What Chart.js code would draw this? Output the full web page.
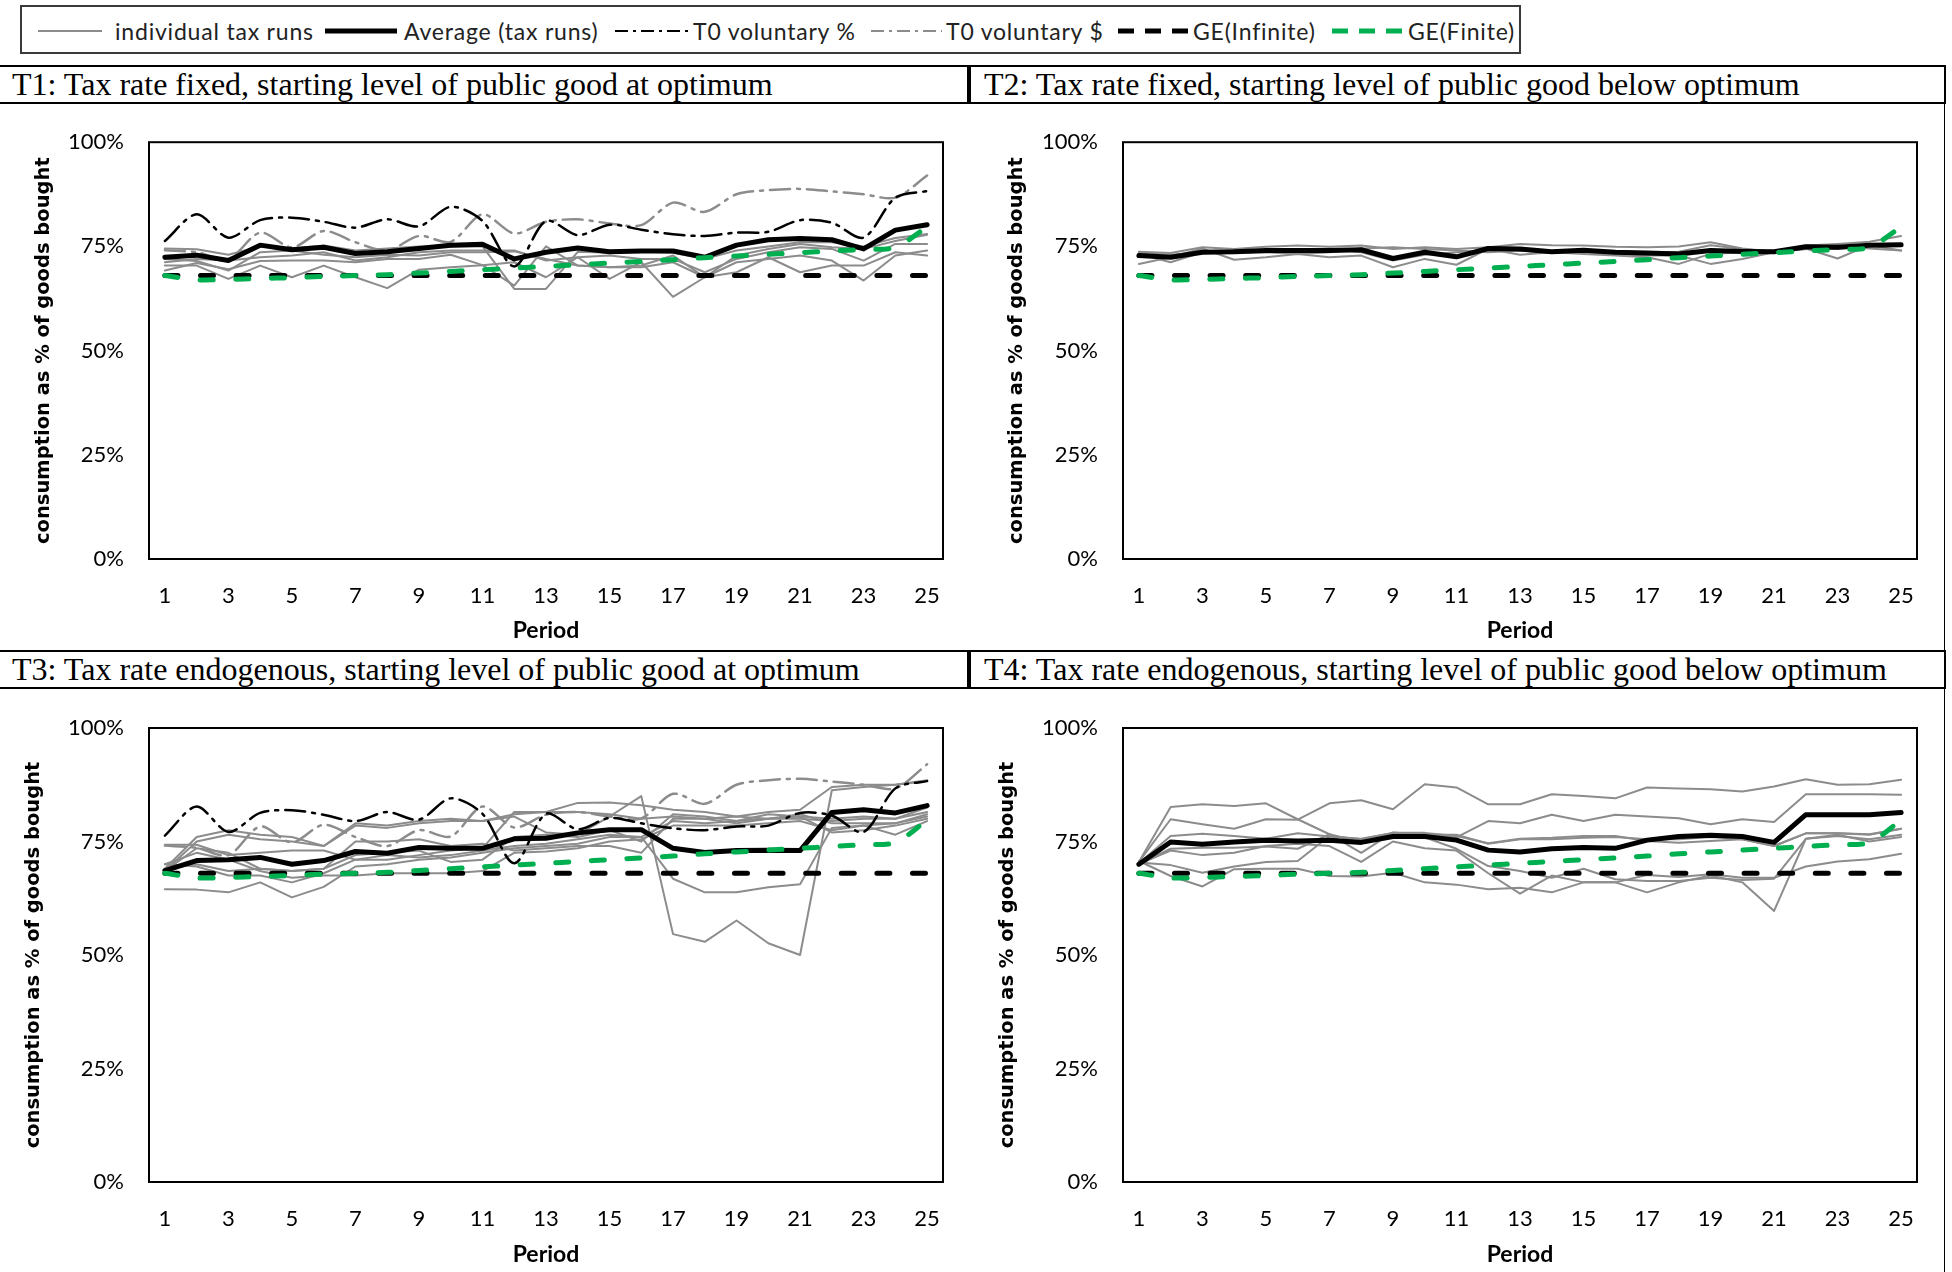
<!DOCTYPE html>
<html>
<head>
<meta charset="utf-8">
<script src="https://cdn.jsdelivr.net/npm/chart.js@4.4.1/dist/chart.umd.min.js"></script>
<style>
  html, body { margin: 0; padding: 0; background: #fff; }
  body { position: relative; width: 1952px; height: 1272px; overflow: hidden; }
  #legend { position: absolute; left: 20px; top: 5px; width: 1501px; height: 49px; box-sizing: border-box; border: 2px solid #3a3a3a; }
  .lg-text { position: absolute; top: 1px; font: 23px Lato, sans-serif; line-height: 46px; letter-spacing: 0.8px; color: #222; white-space: nowrap; }
  .lg-line { position: absolute; top: 14px; height: 20px; }
  .hdr { position: absolute; height: 39px; box-sizing: border-box; border: 2px solid #000; font: 32px "Liberation Serif", "Times New Roman", serif; line-height: 35px; white-space: nowrap; color: #000; }
  .rule { position: absolute; background: #000; }
  canvas { position: absolute; }
</style>
</head>
<body>
<div id="legend"></div>
<div class="rule" style="left:1944px;top:104px;width:1px;height:1168px"></div>

<script>
// periods 1..25
const periods = ['1','2','3','4','5','6','7','8','9','10','11','12','13','14','15','16','17','18','19','20','21','22','23','24','25'];

const panelTitles = [
  'T1: Tax rate fixed, starting level of public good at optimum',
  'T2: Tax rate fixed, starting level of public good below optimum',
  'T3: Tax rate endogenous, starting level of public good at optimum',
  'T4: Tax rate endogenous, starting level of public good below optimum'
];

const legendLabels = ['individual tax runs', 'Average (tax runs)', 'T0 voluntary %', 'T0 voluntary $', 'GE(Infinite)', 'GE(Finite)'];

// theory / baseline series, same in every panel that shows them
const geInfinite = [68, 68, 68, 68, 68, 68, 68, 68, 68, 68, 68, 68, 68, 68, 68, 68, 68, 68, 68, 68, 68, 68, 68, 68, 68];
const geFinite = [68.0, 67.0, 67.1, 67.3, 67.5, 67.8, 68.0, 68.2, 68.6, 69.0, 69.4, 69.8, 70.2, 70.6, 71.0, 71.4, 71.8, 72.3, 72.7, 73.1, 73.5, 73.9, 74.3, 74.8, 79.7];
const t0VoluntaryPct = [76.3, 82.7, 77.1, 81.3, 81.9, 80.9, 79.5, 81.5, 79.8, 84.5, 81.1, 70.2, 81.1, 77.7, 80.2, 79.0, 77.9, 77.5, 78.3, 78.5, 81.3, 80.7, 77.1, 86.7, 88.3];
const t0VoluntaryDollar = [74.1, 73.6, 72.0, 78.3, 74.8, 78.7, 76.0, 74.0, 77.5, 76.1, 82.7, 78.1, 80.9, 81.5, 80.5, 80.1, 85.5, 83.3, 87.5, 88.5, 88.8, 88.2, 87.5, 86.7, 92.0];

// T1
const t1Average = [72.4, 72.9, 71.6, 75.3, 74.2, 74.8, 73.3, 73.7, 74.5, 75.3, 75.5, 72.0, 73.6, 74.6, 73.7, 73.9, 73.9, 72.4, 75.3, 76.6, 76.9, 76.6, 74.4, 78.9, 80.2];
const t1Runs = [
  [72.0, 71.5, 69.2, 73.6, 74.0, 73.0, 72.4, 73.0, 72.8, 73.6, 73.6, 73.8, 72.0, 70.4, 70.0, 70.4, 72.8, 67.6, 72.8, 74.4, 75.6, 74.8, 74.4, 76.3, 77.8],
  [71.2, 72.0, 71.6, 72.4, 72.8, 73.6, 71.6, 72.4, 73.6, 74.0, 74.0, 74.0, 71.6, 72.4, 72.8, 72.0, 72.0, 68.8, 72.0, 73.6, 74.8, 74.4, 71.6, 75.6, 75.6],
  [70.4, 70.4, 67.2, 70.4, 67.6, 70.4, 67.6, 65.0, 69.4, 70.0, 70.5, 71.2, 67.6, 72.4, 67.2, 71.2, 62.9, 67.6, 71.2, 72.0, 72.8, 71.6, 66.8, 72.8, 74.0],
  [69.2, 71.0, 69.5, 71.5, 71.6, 71.6, 71.2, 72.0, 72.0, 73.0, 70.5, 65.6, 75.0, 70.4, 70.0, 70.0, 71.2, 67.6, 68.8, 72.4, 68.8, 70.4, 70.4, 73.6, 72.8],
  [74.5, 74.3, 73.0, 75.0, 74.5, 75.2, 74.0, 74.5, 75.0, 75.0, 75.0, 64.8, 64.8, 73.7, 73.5, 73.8, 73.5, 72.0, 74.0, 75.0, 76.0, 76.0, 75.0, 77.0, 78.0]
];

// T2
const t2Average = [72.8, 72.4, 73.6, 73.7, 74.0, 74.0, 74.0, 74.2, 72.1, 73.6, 72.5, 74.5, 74.4, 73.7, 74.1, 73.6, 73.4, 73.2, 74.0, 73.8, 73.7, 74.9, 74.8, 75.3, 75.4];
const t2Runs = [
  [73.7, 73.4, 74.8, 74.4, 74.9, 75.2, 74.9, 75.2, 74.4, 74.8, 74.4, 74.8, 75.6, 75.3, 75.2, 74.9, 74.8, 75.0, 76.0, 74.5, 73.7, 75.2, 75.6, 76.1, 77.5],
  [70.8, 72.4, 74.5, 71.8, 72.4, 73.2, 72.4, 72.8, 70.0, 72.0, 70.6, 74.4, 73.0, 73.6, 73.2, 72.8, 72.4, 70.8, 73.2, 73.6, 73.6, 74.5, 72.1, 75.3, 74.0],
  [73.4, 73.0, 73.6, 74.0, 74.2, 73.6, 74.5, 73.6, 71.6, 73.0, 73.6, 74.0, 74.0, 73.4, 73.6, 73.2, 72.8, 72.8, 70.8, 72.0, 73.6, 74.4, 75.2, 74.5, 74.0],
  [73.2, 71.2, 73.6, 73.4, 73.6, 73.2, 73.6, 74.5, 74.8, 74.4, 74.0, 73.6, 74.0, 73.6, 73.7, 73.6, 73.4, 73.7, 75.3, 74.4, 73.6, 74.4, 74.4, 75.2, 75.2]
];

// T3
const t3Average = [68.6, 70.8, 71.0, 71.5, 70.0, 70.8, 72.8, 72.4, 73.7, 73.5, 73.5, 75.6, 75.7, 76.9, 77.6, 77.6, 73.5, 72.6, 73.0, 73.1, 73.0, 81.4, 82.0, 81.3, 82.9];
const t3Runs = [
  [68.5, 75.0, 76.5, 75.5, 75.0, 74.0, 78.5, 78.0, 79.0, 79.5, 79.5, 80.5, 77.0, 76.5, 80.5, 85.0, 54.6, 52.9, 57.6, 52.6, 50.0, 86.3, 87.0, 87.5, 88.3],
  [64.5, 64.4, 63.8, 66.0, 62.7, 65.0, 69.5, 70.0, 71.0, 71.5, 72.5, 73.5, 74.0, 74.5, 76.0, 76.0, 66.8, 63.8, 63.8, 64.9, 65.6, 78.0, 78.5, 79.0, 81.0],
  [69.0, 76.0, 77.5, 76.5, 76.0, 74.0, 79.0, 78.5, 79.5, 80.0, 79.5, 81.0, 81.5, 83.5, 83.6, 83.0, 82.0, 81.5, 80.5, 81.5, 82.0, 87.0, 87.5, 87.5, 88.5],
  [74.3, 74.3, 72.0, 72.5, 73.0, 73.0, 71.0, 71.0, 72.0, 73.0, 73.5, 81.5, 81.5, 81.5, 81.0, 80.0, 80.5, 80.0, 80.5, 80.0, 80.0, 79.5, 80.0, 80.0, 81.5],
  [70.0, 72.5, 71.0, 68.5, 67.0, 67.5, 67.5, 68.0, 68.0, 68.0, 68.5, 72.5, 72.8, 73.5, 75.0, 75.5, 78.5, 78.5, 78.5, 79.0, 79.5, 77.5, 78.5, 76.5, 79.5],
  [70.0, 69.5, 67.5, 67.5, 66.0, 68.0, 71.0, 72.0, 71.5, 72.0, 73.0, 74.0, 74.5, 75.5, 76.5, 76.0, 79.5, 79.0, 79.5, 80.0, 80.5, 77.0, 77.5, 78.5, 80.0],
  [69.0, 70.0, 68.5, 69.0, 68.5, 69.0, 72.0, 72.5, 73.0, 70.5, 71.0, 76.0, 76.5, 76.0, 77.5, 75.0, 81.0, 80.5, 79.5, 81.0, 80.5, 80.0, 80.5, 80.0, 82.5],
  [68.5, 73.5, 72.5, 69.0, 68.5, 69.0, 75.0, 75.0, 75.5, 74.0, 74.5, 73.0, 73.5, 74.0, 74.0, 72.5, 80.0, 80.0, 79.0, 80.0, 81.0, 79.0, 79.0, 79.0, 80.5]
];

// T4
const t4Average = [70.0, 74.9, 74.4, 74.9, 75.3, 75.1, 75.3, 74.8, 76.1, 76.1, 75.3, 73.1, 72.7, 73.4, 73.7, 73.5, 75.3, 76.1, 76.4, 76.1, 74.8, 80.9, 80.9, 80.9, 81.4];
const t4Runs = [
  [70.5, 82.6, 83.2, 82.8, 83.4, 79.9, 76.6, 72.5, 77.0, 76.5, 76.5, 74.5, 75.5, 75.5, 75.8, 76.0, 75.5, 75.5, 76.0, 75.5, 74.0, 76.8, 76.8, 76.5, 77.8],
  [70.5, 79.9, 78.8, 77.8, 79.9, 79.8, 83.4, 84.1, 82.1, 87.6, 86.9, 83.2, 83.2, 85.4, 85.0, 84.5, 86.9, 86.7, 86.5, 86.0, 87.1, 88.7, 87.5, 87.6, 88.6],
  [70.2, 76.2, 76.7, 76.2, 75.6, 76.8, 76.1, 75.6, 76.9, 76.9, 76.2, 74.6, 75.6, 75.8, 76.2, 76.2, 75.1, 74.7, 75.1, 75.5, 74.0, 76.8, 76.8, 76.6, 77.8],
  [70.0, 73.4, 73.6, 73.6, 73.9, 73.4, 76.6, 74.9, 76.6, 76.6, 75.9, 79.5, 79.0, 80.9, 79.5, 80.9, 80.5, 80.1, 78.8, 79.9, 79.3, 85.4, 85.4, 85.4, 85.3],
  [70.4, 69.8, 68.1, 69.5, 70.5, 70.7, 76.2, 75.5, 76.9, 75.9, 73.4, 69.6, 68.5, 67.0, 69.0, 66.7, 66.3, 66.3, 67.0, 66.5, 66.8, 75.6, 76.2, 75.5, 76.5],
  [70.7, 67.4, 65.1, 68.9, 69.0, 69.0, 67.4, 67.3, 68.1, 66.0, 65.5, 64.5, 64.8, 63.8, 66.0, 66.0, 67.6, 67.2, 67.8, 67.0, 67.0, 69.5, 70.6, 71.1, 72.3],
  [70.0, 73.0, 72.0, 72.5, 74.0, 74.5, 74.0, 70.5, 75.0, 73.5, 73.0, 68.0, 63.5, 67.5, 66.0, 66.0, 63.8, 66.0, 67.5, 66.0, 59.7, 75.6, 76.5, 75.0, 76.0]
];

const yTicks = [0, 25, 50, 75, 100];

const GRAY = '#8c8c8c';
const GREEN = '#00b050';

// ---- legend (html + little svg samples) ----
const legendLayout = [
  { line: 16, w: 64, text: 93 },
  { line: 303, w: 72, text: 382 },
  { line: 593, w: 73, text: 671 },
  { line: 849, w: 71, text: 924 },
  { line: 1096, w: 71, text: 1171 },
  { line: 1310, w: 71, text: 1386 }
];
const legendStroke = [
  { color: GRAY, width: 2, dash: '' },
  { color: '#000', width: 5, dash: '' },
  { color: '#000', width: 2, dash: '13 5 3 5' },
  { color: GRAY, width: 2, dash: '13 5 3 5' },
  { color: '#000', width: 5, dash: '16 11' },
  { color: GREEN, width: 5, dash: '16 11' }
];
const legendEl = document.getElementById('legend');
legendLabels.forEach((lbl, i) => {
  const pos = legendLayout[i], st = legendStroke[i];
  const svg = document.createElementNS('http://www.w3.org/2000/svg', 'svg');
  svg.setAttribute('class', 'lg-line');
  svg.setAttribute('width', pos.w);
  svg.setAttribute('height', 20);
  svg.style.left = pos.line + 'px';
  const ln = document.createElementNS('http://www.w3.org/2000/svg', 'line');
  ln.setAttribute('x1', 0); ln.setAttribute('x2', pos.w);
  ln.setAttribute('y1', 10); ln.setAttribute('y2', 10);
  ln.setAttribute('stroke', st.color);
  ln.setAttribute('stroke-width', st.width);
  if (st.dash) ln.setAttribute('stroke-dasharray', st.dash);
  svg.appendChild(ln);
  legendEl.appendChild(svg);
  const t = document.createElement('div');
  t.className = 'lg-text';
  t.style.left = pos.text + 'px';
  t.textContent = lbl;
  legendEl.appendChild(t);
});

// ---- panel headers ----
const headerBoxes = [
  { left: -2, top: 65, width: 971, pad: 12 },
  { left: 969, top: 65, width: 977, pad: 13 },
  { left: -2, top: 650, width: 971, pad: 12 },
  { left: 969, top: 650, width: 977, pad: 13 }
];
panelTitles.forEach((txt, i) => {
  const b = headerBoxes[i];
  const d = document.createElement('div');
  d.className = 'hdr';
  d.style.left = b.left + 'px';
  d.style.top = b.top + 'px';
  d.style.width = b.width + 'px';
  d.style.paddingLeft = b.pad + 'px';
  d.textContent = txt;
  document.body.appendChild(d);
});

// ---- charts ----
const plotFrame = {
  id: 'plotFrame',
  afterDatasetsDraw(chart) {
    const { ctx, chartArea: a } = chart;
    ctx.save();
    ctx.strokeStyle = '#000';
    ctx.lineWidth = 2;
    ctx.strokeRect(a.left, a.top, a.right - a.left, a.bottom - a.top);
    ctx.restore();
  }
};

function buildPanel(p) {
  const canvas = document.createElement('canvas');
  canvas.width = p.w;
  canvas.height = p.h;
  canvas.style.left = p.x + 'px';
  canvas.style.top = p.y + 'px';
  canvas.style.width = p.w + 'px';
  canvas.style.height = p.h + 'px';
  document.body.appendChild(canvas);

  const datasets = [];
  p.runs.forEach(r => {
    datasets.push({ label: legendLabels[0], data: r, borderColor: GRAY, borderWidth: 2, order: 5 });
  });
  if (p.showT0) {
    datasets.push({ label: legendLabels[3], data: t0VoluntaryDollar, borderColor: GRAY, borderWidth: 2.5,
      borderDash: [20, 7, 3, 7], tension: 0.3, order: 4 });
    datasets.push({ label: legendLabels[2], data: t0VoluntaryPct, borderColor: '#000', borderWidth: 2.5,
      borderDash: [20, 7, 3, 7], tension: 0.3, order: 3 });
  }
  datasets.push({ label: legendLabels[1], data: p.avg, borderColor: '#000', borderWidth: 5, order: 2 });
  datasets.push({ label: legendLabels[4], data: geInfinite, borderColor: '#000', borderWidth: 5,
    borderDash: [13, 22.6], borderCapStyle: 'round', order: 1 });
  datasets.push({ label: legendLabels[5], data: geFinite, borderColor: GREEN, borderWidth: 5,
    borderDash: [13, 22.6], borderCapStyle: 'round', tension: 0.3, order: 0 });

  return new Chart(canvas, {
    type: 'line',
    data: { labels: periods, datasets: datasets },
    options: {
      responsive: false,
      animation: false,
      devicePixelRatio: 1,
      layout: { padding: { left: 0, top: p.padTop, right: p.padRight, bottom: p.padBottom } },
      elements: {
        point: { radius: 0 },
        line: { borderJoinStyle: 'round', borderCapStyle: 'round', fill: false }
      },
      plugins: { legend: { display: false }, tooltip: { enabled: false } },
      scales: {
        x: {
          type: 'category',
          offset: true,
          grid: { display: false, drawTicks: false },
          border: { display: false },
          afterFit: s => { s.height = p.xAxisH; },
          ticks: {
            autoSkip: false,
            maxRotation: 0,
            padding: 24,
            color: '#000',
            font: { family: 'Lato', size: 22 },
            callback: (v, i) => (i % 2 === 0 ? periods[i] : '')
          },
          title: {
            display: true,
            text: 'Period',
            color: '#000',
            font: { family: 'Lato', size: 23, weight: 'bold' },
            padding: { top: 0, bottom: 0 }
          }
        },
        y: {
          min: 0,
          max: 100,
          grid: { display: false, drawTicks: false },
          border: { display: false },
          afterFit: s => { s.width = p.yAxisW; },
          afterBuildTicks: s => { s.ticks = yTicks.map(v => ({ value: v })); },
          ticks: {
            padding: 25,
            color: '#000',
            font: { family: 'Lato', size: 22 },
            callback: v => v + '%'
          },
          title: {
            display: true,
            text: 'consumption as % of goods bought',
            color: '#000',
            font: { family: 'DejaVu Sans', size: 19.5, weight: 'bold' },
            padding: { top: p.yTitlePad, bottom: 0 }
          }
        }
      }
    },
    plugins: [plotFrame]
  });
}

buildPanel({ x: 0, y: 104, w: 969, h: 546, padTop: 35, padRight: 26, padBottom: 6, xAxisH: 85, yAxisW: 149,
  yTitlePad: 32, runs: t1Runs, avg: t1Average, showT0: true });
buildPanel({ x: 969, y: 104, w: 975, h: 546, padTop: 35, padRight: 27, padBottom: 6, xAxisH: 85, yAxisW: 154,
  yTitlePad: 36, runs: t2Runs, avg: t2Average, showT0: false });
buildPanel({ x: 0, y: 689, w: 969, h: 583, padTop: 39, padRight: 26, padBottom: 4, xAxisH: 86, yAxisW: 149,
  yTitlePad: 22, runs: t3Runs, avg: t3Average, showT0: true });
buildPanel({ x: 969, y: 689, w: 975, h: 583, padTop: 39, padRight: 27, padBottom: 4, xAxisH: 86, yAxisW: 154,
  yTitlePad: 27, runs: t4Runs, avg: t4Average, showT0: false });
</script>
</body>
</html>
